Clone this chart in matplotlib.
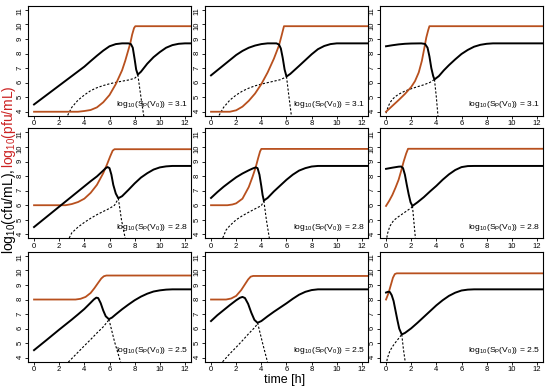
import matplotlib.pyplot as plt

plt.rcParams['font.family'] = ['Liberation Sans', 'DejaVu Sans']
plt.rcParams['mathtext.default'] = 'regular'

# log10(S_P(V_0)) per panel row
sp_labels = ['3.1', '2.8', '2.5']

# (time [h], log10 value); panels a..i left->right, top->bottom
# black: total bacteria, red: phage, dotted: resistant / susceptible bacteria
cfu_a = [(0, 4.5), (1, 5.15), (2, 5.8), (3, 6.45), (4, 7.1), (4.5, 7.48), (5, 7.85), (5.5, 8.2),
         (6, 8.5), (6.5, 8.65), (7, 8.7), (7.5, 8.7), (7.7, 8.65), (7.85, 8.4), (8.0, 7.6),
         (8.12, 6.9), (8.25, 6.55), (8.5, 6.75), (9, 7.3), (9.5, 7.75), (10, 8.1), (10.5, 8.4),
         (11, 8.58), (11.5, 8.67), (12, 8.7), (12.5, 8.7)]
pfu_a = [(0, 4.0), (3.5, 4.0), (4, 4.05), (4.5, 4.12), (5, 4.3), (5.5, 4.65), (6, 5.15), (6.5, 5.9),
         (7, 6.85), (7.25, 7.5), (7.5, 8.25), (7.65, 8.7), (7.8, 9.3), (7.95, 9.75), (8.05, 9.88),
         (12.5, 9.88)]
res_a = [(2.55, 3.5), (2.7, 3.8), (3, 4.3), (3.5, 4.8), (4, 5.15), (4.5, 5.45), (5, 5.65),
         (5.5, 5.8), (6, 5.92), (6.5, 6.02), (7, 6.1), (7.5, 6.18), (8, 6.3), (8.25, 6.5)]
sus_a = [(8.25, 6.55), (8.5, 5.0), (8.76, 3.5)]

cfu_b = [(0, 6.5), (0.5, 6.85), (1, 7.2), (1.5, 7.55), (2, 7.9), (2.5, 8.18), (3, 8.4), (3.5, 8.55),
         (4, 8.65), (4.5, 8.7), (5.2, 8.7), (5.4, 8.62), (5.55, 8.35), (5.7, 7.7), (5.85, 6.9),
         (6.0, 6.42), (6.3, 6.6), (7, 7.15), (7.5, 7.55), (8, 7.95), (8.5, 8.3), (9, 8.52),
         (9.5, 8.65), (10, 8.7), (12.5, 8.7)]
pfu_b = [(0, 4.0), (1.5, 4.0), (2.0, 4.1), (2.5, 4.35), (3, 4.75), (3.5, 5.25), (4, 5.9),
         (4.5, 6.7), (5, 7.65), (5.4, 8.55), (5.6, 9.2), (5.8, 9.88), (12.5, 9.88)]
res_b = [(0.5, 3.5), (0.62, 3.72), (1, 4.3), (1.5, 4.8), (2, 5.15), (2.5, 5.42), (3, 5.62),
         (3.5, 5.78), (4, 5.9), (4.5, 6.0), (5, 6.1), (5.5, 6.2), (6, 6.4)]
sus_b = [(6.0, 6.42), (6.2, 5.0), (6.42, 3.5)]

cfu_c = [(0, 8.5), (0.5, 8.57), (1, 8.63), (1.5, 8.67), (2, 8.69), (2.8, 8.7), (3.1, 8.66),
         (3.3, 8.4), (3.45, 7.8), (3.6, 7.0), (3.75, 6.45), (3.85, 6.22), (4.2, 6.45), (4.6, 6.85),
         (5, 7.2), (5.5, 7.6), (6, 7.97), (6.5, 8.25), (7, 8.47), (7.5, 8.6), (8, 8.67), (8.5, 8.7),
         (12.5, 8.7)]
pfu_c = [(0, 4.0), (0.5, 4.4), (1, 4.8), (1.5, 5.22), (2, 5.7), (2.3, 6.1), (2.6, 6.7), (2.85, 7.5),
         (3.05, 8.4), (3.2, 9.1), (3.35, 9.6), (3.45, 9.88), (12.5, 9.88)]
res_c = [(0.0, 3.9), (0.15, 4.3), (0.3, 4.6), (0.5, 4.85), (0.75, 5.05), (1, 5.2), (1.5, 5.42),
         (2, 5.58), (2.5, 5.72), (3, 5.85), (3.5, 6.02), (3.85, 6.22)]
sus_c = [(3.85, 6.22), (4.0, 5.0), (4.15, 3.5)]

cfu_d = [(0, 4.5), (1, 5.2), (2, 5.9), (3, 6.6), (4, 7.3), (4.5, 7.65), (5, 7.98), (5.4, 8.3),
         (5.7, 8.55), (5.85, 8.62), (6.0, 8.55), (6.15, 8.1), (6.3, 7.4), (6.5, 6.8), (6.7, 6.48),
         (7.0, 6.62), (7.5, 7.05), (8, 7.5), (8.5, 7.9), (9, 8.2), (9.5, 8.45), (10, 8.6),
         (10.5, 8.67), (11, 8.7), (12.5, 8.7)]
pfu_d = [(0, 6.0), (2.5, 6.0), (3, 6.08), (3.5, 6.22), (4, 6.45), (4.5, 6.85), (5, 7.4), (5.5, 8.2),
         (5.8, 8.8), (6.05, 9.35), (6.25, 9.75), (6.4, 9.85), (12.5, 9.85)]
res_d = [(2.65, 3.5), (2.8, 3.75), (3, 4.1), (3.5, 4.5), (4, 4.82), (4.5, 5.1), (5, 5.35),
         (5.5, 5.57), (6, 5.78), (6.4, 6.0), (6.7, 6.45)]
sus_d = [(6.7, 6.48), (6.95, 5.0), (7.3, 3.5)]

cfu_e = [(0, 6.5), (0.5, 6.9), (1, 7.27), (1.5, 7.6), (2, 7.92), (2.5, 8.18), (3, 8.4), (3.3, 8.52),
         (3.55, 8.6), (3.7, 8.55), (3.85, 8.1), (4.0, 7.3), (4.1, 6.7), (4.2, 6.32), (4.5, 6.5),
         (5, 6.95), (5.5, 7.35), (6, 7.75), (6.5, 8.1), (7, 8.38), (7.5, 8.55), (8, 8.66),
         (8.5, 8.7), (12.5, 8.7)]
pfu_e = [(0, 6.0), (1.3, 6.0), (1.7, 6.05), (2, 6.13), (2.5, 6.45), (3, 7.25), (3.3, 7.95),
         (3.55, 8.6), (3.75, 9.25), (3.9, 9.7), (4.0, 9.87), (12.5, 9.87)]
res_e = [(0.8, 3.5), (0.92, 3.72), (1.2, 4.3), (1.5, 4.6), (2, 5.0), (2.5, 5.28), (3, 5.52),
         (3.5, 5.75), (4, 5.97), (4.2, 6.3)]
sus_e = [(4.2, 6.3), (4.4, 5.0), (4.68, 3.5)]

cfu_f = [(0, 8.5), (0.5, 8.58), (1, 8.65), (1.2, 8.66), (1.35, 8.55), (1.5, 8.1), (1.65, 7.4),
         (1.8, 6.75), (1.95, 6.2), (2.1, 5.95), (2.5, 6.2), (3, 6.55), (3.5, 6.95), (4, 7.33),
         (4.5, 7.75), (5, 8.12), (5.5, 8.42), (6, 8.62), (6.5, 8.69), (7, 8.7), (12.5, 8.7)]
pfu_f = [(0, 5.95), (0.25, 6.3), (0.5, 6.7), (0.75, 7.2), (1.0, 7.75), (1.2, 8.35), (1.4, 9.0),
         (1.6, 9.55), (1.75, 9.88), (12.5, 9.88)]
res_f = [(0.03, 3.5), (0.1, 4.0), (0.3, 4.55), (0.6, 4.95), (1, 5.22), (1.5, 5.52), (2.0, 5.82),
         (2.1, 5.95)]
sus_f = [(2.1, 5.95), (2.2, 5.0), (2.36, 3.5)]

cfu_g = [(0, 4.52), (1, 5.22), (2, 5.93), (3, 6.62), (3.5, 6.98), (4, 7.35), (4.5, 7.78), (4.75, 8.0),
         (4.95, 8.13), (5.1, 8.1), (5.3, 7.75), (5.5, 7.25), (5.7, 6.85), (5.95, 6.65), (6.2, 6.76),
         (6.5, 6.98), (7, 7.33), (7.5, 7.65), (8, 7.95), (8.5, 8.2), (9, 8.4), (9.5, 8.55),
         (10, 8.63), (10.5, 8.68), (11, 8.7), (12.5, 8.7)]
pfu_g = [(0, 8.0), (3.3, 8.0), (3.7, 8.05), (4.1, 8.18), (4.5, 8.45), (4.8, 8.78), (5.1, 9.15),
         (5.35, 9.45), (5.55, 9.6), (5.75, 9.65), (12.5, 9.65)]
res_g = [(2.5, 3.5), (2.75, 3.72), (3.5, 4.38), (4, 4.82), (4.5, 5.25), (5, 5.7), (5.5, 6.12),
         (5.95, 6.6)]
sus_g = [(5.95, 6.65), (6.4, 5.1), (6.95, 3.5)]

cfu_h = [(0, 6.52), (0.5, 6.92), (1, 7.27), (1.5, 7.62), (2, 7.95), (2.3, 8.12), (2.5, 8.18),
         (2.7, 8.1), (2.95, 7.7), (3.2, 7.1), (3.45, 6.6), (3.7, 6.4), (4, 6.52), (4.5, 6.85),
         (5, 7.16), (5.5, 7.45), (6, 7.74), (6.5, 8.05), (7, 8.33), (7.5, 8.53), (8, 8.65),
         (8.5, 8.7), (12.5, 8.7)]
pfu_h = [(0, 8.0), (1.2, 8.0), (1.6, 8.07), (2, 8.25), (2.4, 8.65), (2.7, 9.05), (2.95, 9.38),
         (3.15, 9.57), (3.35, 9.62), (12.5, 9.62)]
res_h = [(0.72, 3.5), (0.92, 3.72), (1.5, 4.28), (2, 4.72), (2.5, 5.18), (3, 5.66), (3.5, 6.1),
         (3.7, 6.35)]
sus_h = [(3.7, 6.4), (4.1, 5.0), (4.55, 3.5)]

cfu_i = [(0, 8.48), (0.15, 8.53), (0.3, 8.52), (0.45, 8.3), (0.6, 7.9), (0.75, 7.25), (0.9, 6.6),
         (1.05, 6.0), (1.25, 5.6), (1.5, 5.7), (2, 6.02), (2.5, 6.4), (3, 6.8), (3.5, 7.2),
         (4, 7.6), (4.5, 7.95), (5, 8.25), (5.5, 8.47), (6, 8.62), (6.5, 8.68), (7, 8.7), (12.5, 8.7)]
pfu_i = [(0, 8.0), (0.2, 8.45), (0.4, 9.05), (0.55, 9.5), (0.7, 9.75), (0.85, 9.8), (12.5, 9.8)]
res_i = [(0.02, 3.5), (0.1, 3.95), (0.3, 4.45), (0.5, 4.75), (0.75, 5.05), (1, 5.32), (1.25, 5.6)]
sus_i = [(1.25, 5.6), (1.38, 4.6), (1.56, 3.5)]

panels = [
    (cfu_a, pfu_a, res_a, sus_a), (cfu_b, pfu_b, res_b, sus_b), (cfu_c, pfu_c, res_c, sus_c),
    (cfu_d, pfu_d, res_d, sus_d), (cfu_e, pfu_e, res_e, sus_e), (cfu_f, pfu_f, res_f, sus_f),
    (cfu_g, pfu_g, res_g, sus_g), (cfu_h, pfu_h, res_h, sus_h), (cfu_i, pfu_i, res_i, sus_i),
]

phage_col = '#B8501E'
label_red = '#CC2222'

fig = plt.figure(figsize=(5.5, 3.91), dpi=100)
lefts = [0.0509, 0.3727, 0.6909]
bottoms = [0.7038, 0.3903, 0.0747]
w, h = 0.2964, 0.2813

for i, (cfu, pfu, res, sus) in enumerate(panels):
    ax = fig.add_axes([lefts[i % 3], bottoms[i // 3], w, h])
    dots = dict(color='black', lw=0.8, ls=(0, (2, 1.6)))
    ax.plot(*zip(*res), **dots)
    ax.plot(*zip(*sus), **dots)
    ax.plot(*zip(*pfu), color=phage_col, lw=1.3)
    ax.plot(*zip(*cfu), color='black', lw=1.4)
    ax.set_xlim(-0.48, 12.48)
    ax.set_ylim(3.72, 11.28)
    ax.set_xticks(range(0, 13, 2))
    ax.set_yticks(range(4, 12))
    ax.tick_params(direction='out', length=2, width=0.6, labelsize=5.5, pad=1)
    ax.tick_params(axis='y', labelrotation=90)
    for s in ax.spines.values():
        s.set_linewidth(0.8)
    ax.text(12.25, 4.5, r'$log_{10}(S_P(V_0))$ = ' + sp_labels[i // 3],
            ha='right', va='center', fontsize=6.1)

fig.text(0.518, 0.028, 'time [h]', ha='center', va='center', fontsize=9)

# two-colour y label: black part first, red part continues right after it
renderer = fig.canvas.get_renderer()
ylab_black = fig.text(0.0155, 0.35, r'$log_{10}$(cfu/mL), ', rotation=90, rotation_mode='anchor',
                      ha='left', va='center', fontsize=10)
top = ylab_black.get_window_extent(renderer).y1 / fig.bbox.height
fig.text(0.0155, top, r'$log_{10}$(pfu/mL)', rotation=90, rotation_mode='anchor',
         ha='left', va='center', fontsize=10, color=label_red)

fig.savefig('out.png', dpi=100)
